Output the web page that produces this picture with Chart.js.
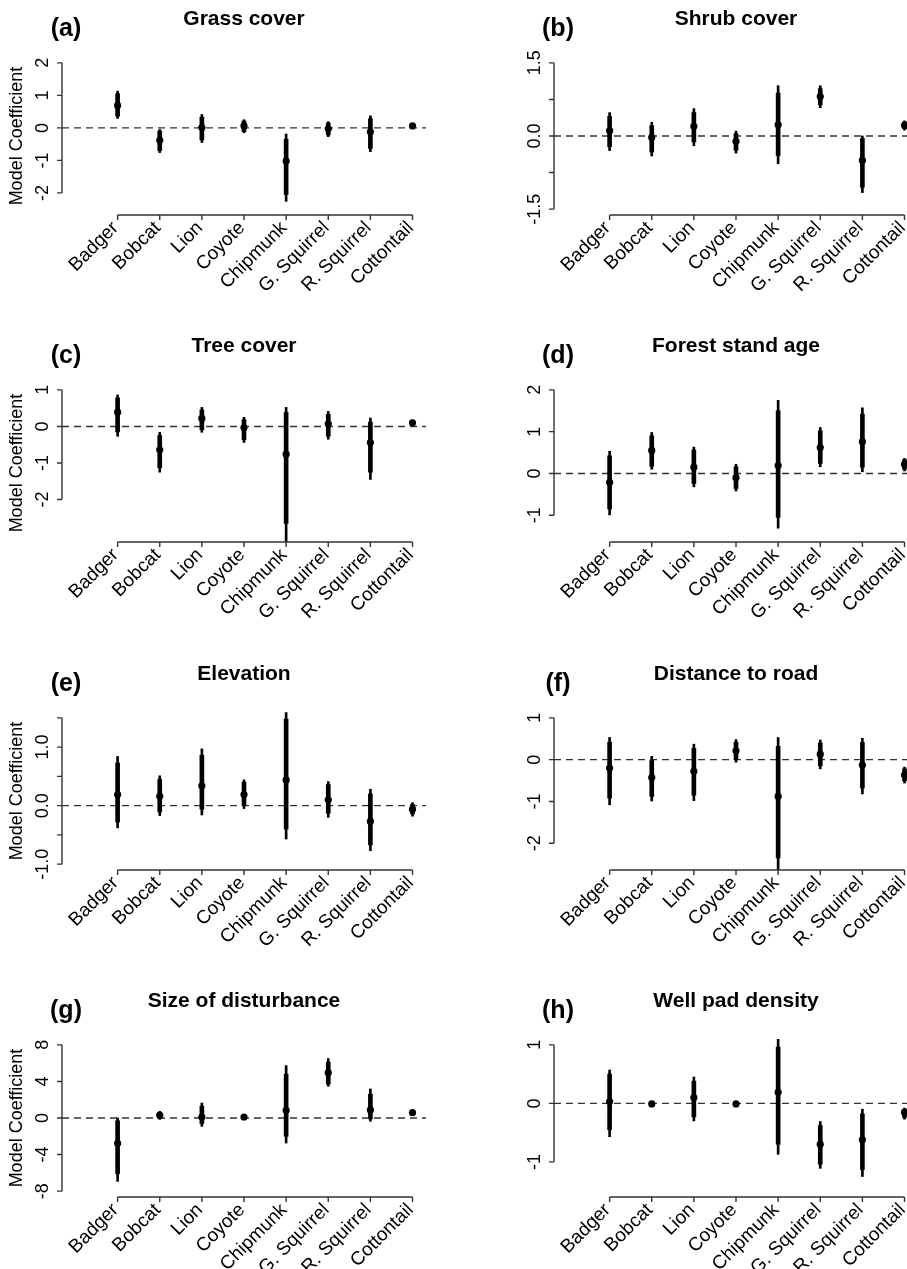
<!DOCTYPE html>
<html>
<head>
<meta charset="utf-8">
<script src="https://cdn.jsdelivr.net/npm/chart.js@4"></script>
<style>
  html, body { margin: 0; padding: 0; background: #fff; }
  #figure { position: relative; width: 907px; height: 1269px; overflow: hidden; }
  #figure canvas { position: absolute; }
</style>
</head>
<body>
<div id="figure"></div>
<script>
const species = ["Badger", "Bobcat", "Lion", "Coyote", "Chipmunk", "G. Squirrel", "R. Squirrel", "Cottontail"];

// (a) Grass cover
const grassEst = [0.69, -0.38, 0.01, 0.06, -1.02, -0.03, -0.12, 0.06];
const grassInner = [[0.36, 1.05], [-0.70, -0.10], [-0.37, 0.33], [-0.11, 0.21], [-2.05, -0.35], [-0.22, 0.15], [-0.63, 0.28], [0.00, 0.12]];
const grassOuter = [[0.29, 1.13], [-0.76, -0.05], [-0.45, 0.41], [-0.15, 0.25], [-2.26, -0.19], [-0.27, 0.19], [-0.73, 0.37], [-0.02, 0.14]];
const grassTicks = [-2, -1, 0, 1, 2];
const grassTickLabels = ["-2", "-1", "0", "1", "2"];

// (b) Shrub cover
const shrubEst = [0.11, -0.03, 0.20, -0.11, 0.23, 0.81, -0.50, 0.22];
const shrubInner = [[-0.22, 0.40], [-0.33, 0.21], [-0.12, 0.48], [-0.29, 0.05], [-0.40, 0.88], [0.64, 0.97], [-1.05, -0.05], [0.15, 0.29]];
const shrubOuter = [[-0.30, 0.48], [-0.41, 0.28], [-0.20, 0.56], [-0.35, 0.10], [-0.57, 1.03], [0.58, 1.03], [-1.16, 0.00], [0.12, 0.31]];
const shrubTicks = [-1.5, -0.75, 0, 0.75, 1.5];
const shrubTickLabels = ["-1.5", "", "0.0", "", "1.5"];

// (c) Tree cover
const treeEst = [0.39, -0.64, 0.22, -0.03, -0.76, 0.07, -0.44, 0.10];
const treeInner = [[-0.15, 0.78], [-1.13, -0.25], [-0.09, 0.45], [-0.36, 0.18], [-2.65, 0.38], [-0.27, 0.33], [-1.25, 0.12], [0.05, 0.15]];
const treeOuter = [[-0.27, 0.86], [-1.25, -0.16], [-0.16, 0.52], [-0.44, 0.25], [-3.30, 0.52], [-0.35, 0.41], [-1.45, 0.23], [0.03, 0.17]];
const treeTicks = [-2, -1, 0, 1];
const treeTickLabels = ["-2", "-1", "0", "1"];

// (d) Forest stand age
const standEst = [-0.21, 0.55, 0.15, -0.10, 0.19, 0.62, 0.76, 0.22];
const standInner = [[-0.85, 0.42], [0.17, 0.90], [-0.24, 0.56], [-0.36, 0.16], [-1.05, 1.50], [0.24, 1.02], [0.15, 1.42], [0.10, 0.33]];
const standOuter = [[-0.99, 0.53], [0.10, 0.98], [-0.32, 0.63], [-0.42, 0.22], [-1.31, 1.75], [0.16, 1.10], [0.04, 1.57], [0.06, 0.36]];
const standTicks = [-1, 0, 1, 2];
const standTickLabels = ["-1", "0", "1", "2"];

// (e) Elevation
const elevEst = [0.19, 0.16, 0.34, 0.19, 0.44, 0.10, -0.27, -0.06];
const elevInner = [[-0.28, 0.73], [-0.11, 0.45], [-0.06, 0.86], [0.00, 0.40], [-0.40, 1.48], [-0.13, 0.36], [-0.67, 0.20], [-0.14, 0.02]];
const elevOuter = [[-0.38, 0.84], [-0.17, 0.51], [-0.16, 0.97], [-0.05, 0.44], [-0.57, 1.59], [-0.20, 0.41], [-0.77, 0.28], [-0.18, 0.05]];
const elevTicks = [-1, -0.5, 0, 0.5, 1, 1.5];
const elevTickLabels = ["-1.0", "", "0.0", "", "1.0", ""];

// (f) Distance to road
const roadEst = [-0.20, -0.43, -0.28, 0.21, -0.88, 0.13, -0.13, -0.37];
const roadInner = [[-0.92, 0.42], [-0.88, -0.02], [-0.85, 0.27], [0.00, 0.42], [-2.35, 0.32], [-0.15, 0.40], [-0.68, 0.41], [-0.51, -0.22]];
const roadOuter = [[-1.08, 0.53], [-0.99, 0.08], [-0.98, 0.37], [-0.06, 0.48], [-2.90, 0.53], [-0.22, 0.47], [-0.82, 0.51], [-0.56, -0.18]];
const roadTicks = [-2, -1, 0, 1];
const roadTickLabels = ["-2", "-1", "0", "1"];

// (g) Size of disturbance
const disturbEst = [-2.77, 0.29, 0.11, 0.11, 0.84, 4.96, 0.88, 0.58];
const disturbInner = [[-6.1, -0.3], [-0.05, 0.62], [-0.6, 1.3], [-0.05, 0.25], [-2.0, 4.8], [3.7, 6.1], [-0.1, 2.6], [0.45, 0.72]];
const disturbOuter = [[-6.93, 0.0], [-0.15, 0.73], [-0.91, 1.64], [-0.10, 0.30], [-2.74, 5.73], [3.47, 6.5], [-0.36, 3.18], [0.40, 0.78]];
const disturbTicks = [-8, -4, 0, 4, 8];
const disturbTickLabels = ["-8", "-4", "0", "4", "8"];

// (h) Well pad density
const wellEst = [0.03, -0.01, 0.10, -0.01, 0.19, -0.70, -0.62, -0.15];
const wellInner = [[-0.45, 0.50], [-0.04, 0.02], [-0.23, 0.38], [-0.03, 0.01], [-0.70, 0.96], [-1.04, -0.38], [-1.13, -0.18], [-0.24, -0.10]];
const wellOuter = [[-0.57, 0.57], [-0.05, 0.03], [-0.30, 0.45], [-0.04, 0.02], [-0.87, 1.11], [-1.11, -0.31], [-1.25, -0.10], [-0.27, -0.08]];
const wellTicks = [-1, 0, 1];
const wellTickLabels = ["-1", "0", "1"];

const panels = [
    { letter: "(a)", title: "Grass cover", est: grassEst, inner: grassInner, outer: grassOuter, ticks: grassTicks, tickLabels: grassTickLabels, yMin: -2.68, yMax: 2.18 },
    { letter: "(b)", title: "Shrub cover", est: shrubEst, inner: shrubInner, outer: shrubOuter, ticks: shrubTicks, tickLabels: shrubTickLabels, yMin: -1.62, yMax: 1.62 },
    { letter: "(c)", title: "Tree cover", est: treeEst, inner: treeInner, outer: treeOuter, ticks: treeTicks, tickLabels: treeTickLabels, yMin: -3.16, yMax: 1.16 },
    { letter: "(d)", title: "Forest stand age", est: standEst, inner: standInner, outer: standOuter, ticks: standTicks, tickLabels: standTickLabels, yMin: -1.64, yMax: 2.14 },
    { letter: "(e)", title: "Elevation", est: elevEst, inner: elevInner, outer: elevOuter, ticks: elevTicks, tickLabels: elevTickLabels, yMin: -1.1, yMax: 1.6 },
    { letter: "(f)", title: "Distance to road", est: roadEst, inner: roadInner, outer: roadOuter, ticks: roadTicks, tickLabels: roadTickLabels, yMin: -2.64, yMax: 1.14 },
    { letter: "(g)", title: "Size of disturbance", est: disturbEst, inner: disturbInner, outer: disturbOuter, ticks: disturbTicks, tickLabels: disturbTickLabels, yMin: -8.64, yMax: 8.64 },
    { letter: "(h)", title: "Well pad density", est: wellEst, inner: wellInner, outer: wellOuter, ticks: wellTicks, tickLabels: wellTickLabels, yMin: -1.6, yMax: 1.1 }
];

const FONT = '"Liberation Sans", Arial, Helvetica, sans-serif';
const PANEL_W = 492;
const PANEL_H = 327;
const rowTops = [0, 327, 655, 982];

// R-style axes: lines only between the outer ticks, rotated labels
function makeAxesPlugin(p, showYTitle) {
    return {
        id: "rAxes",

        beforeDatasetsDraw(chart) {
            const { ctx, chartArea } = chart;
            const y0 = chart.scales.y.getPixelForValue(0);
            ctx.save();
            ctx.strokeStyle = "#333";
            ctx.lineWidth = 1.4;
            ctx.setLineDash([7, 5]);
            ctx.beginPath();
            ctx.moveTo(chartArea.left, y0);
            ctx.lineTo(chartArea.right, y0);
            ctx.stroke();
            ctx.restore();
        },

        afterDraw(chart) {
            const { ctx, chartArea: a } = chart;
            const x = chart.scales.x;
            const y = chart.scales.y;

            ctx.save();
            ctx.strokeStyle = "#333";
            ctx.lineWidth = 1.4;
            ctx.fillStyle = "#000";

            ctx.beginPath();
            ctx.moveTo(a.left, y.getPixelForValue(Math.max(...p.ticks)));
            ctx.lineTo(a.left, y.getPixelForValue(Math.min(...p.ticks)));
            p.ticks.forEach(t => {
                const py = y.getPixelForValue(t);
                ctx.moveTo(a.left, py);
                ctx.lineTo(a.left - 5, py);
            });
            ctx.moveTo(x.getPixelForValue(1), a.bottom);
            ctx.lineTo(x.getPixelForValue(species.length), a.bottom);
            species.forEach((s, i) => {
                const px = x.getPixelForValue(i + 1);
                ctx.moveTo(px, a.bottom);
                ctx.lineTo(px, a.bottom + 5);
            });
            ctx.stroke();

            ctx.font = "18px " + FONT;
            ctx.textAlign = "center";
            ctx.textBaseline = "middle";
            p.ticks.forEach((t, i) => {
                const lab = p.tickLabels[i];
                if (!lab) return;
                ctx.save();
                ctx.translate(a.left - 19, y.getPixelForValue(t));
                ctx.rotate(-Math.PI / 2);
                ctx.fillText(lab, 0, 0);
                ctx.restore();
            });

            if (showYTitle) {
                ctx.save();
                ctx.translate(17, (a.top + a.bottom) / 2);
                ctx.rotate(-Math.PI / 2);
                ctx.fillText("Model Coefficient", 0, 0);
                ctx.restore();
            }

            ctx.font = "19px " + FONT;
            ctx.textAlign = "right";
            species.forEach((s, i) => {
                ctx.save();
                ctx.translate(x.getPixelForValue(i + 1) - 2, a.bottom + 10);
                ctx.rotate(-Math.PI / 4);
                ctx.fillText(s, 0, 0);
                ctx.restore();
            });

            ctx.textAlign = "center";
            ctx.font = "bold 21px " + FONT;
            ctx.fillText(p.title, (a.left + a.right) / 2, 19);
            ctx.font = "bold 25px " + FONT;
            ctx.fillText(p.letter, 66, 29);

            ctx.restore();
        }
    };
}

const figure = document.getElementById("figure");

panels.forEach((p, k) => {
    const col = k % 2;
    const row = Math.floor(k / 2);

    const canvas = document.createElement("canvas");
    canvas.width = PANEL_W;
    canvas.height = PANEL_H;
    canvas.style.left = (col * PANEL_W) + "px";
    canvas.style.top = rowTops[row] + "px";
    figure.appendChild(canvas);

    new Chart(canvas, {
        type: "bar",
        data: {
            datasets: [
                {
                    data: p.outer.map((r, i) => ({ x: i + 1, y: r })),
                    backgroundColor: "#000",
                    barThickness: 2,
                    grouped: false,
                    clip: 0
                },
                {
                    data: p.inner.map((r, i) => ({ x: i + 1, y: r })),
                    backgroundColor: "#000",
                    barThickness: 4,
                    grouped: false,
                    clip: 0
                },
                {
                    type: "scatter",
                    data: p.est.map((v, i) => ({ x: i + 1, y: v })),
                    backgroundColor: "#000",
                    borderWidth: 0,
                    pointRadius: 3.6,
                    clip: 0
                }
            ]
        },
        options: {
            responsive: false,
            animation: false,
            layout: {
                padding: { left: 62, right: 66, top: 57, bottom: 112 }
            },
            plugins: {
                legend: { display: false },
                tooltip: { enabled: false }
            },
            scales: {
                x: { type: "linear", min: -0.32, max: 8.32, offset: false, display: false },
                y: { type: "linear", min: p.yMin, max: p.yMax, display: false }
            }
        },
        plugins: [makeAxesPlugin(p, col === 0)]
    });
});
</script>
</body>
</html>
